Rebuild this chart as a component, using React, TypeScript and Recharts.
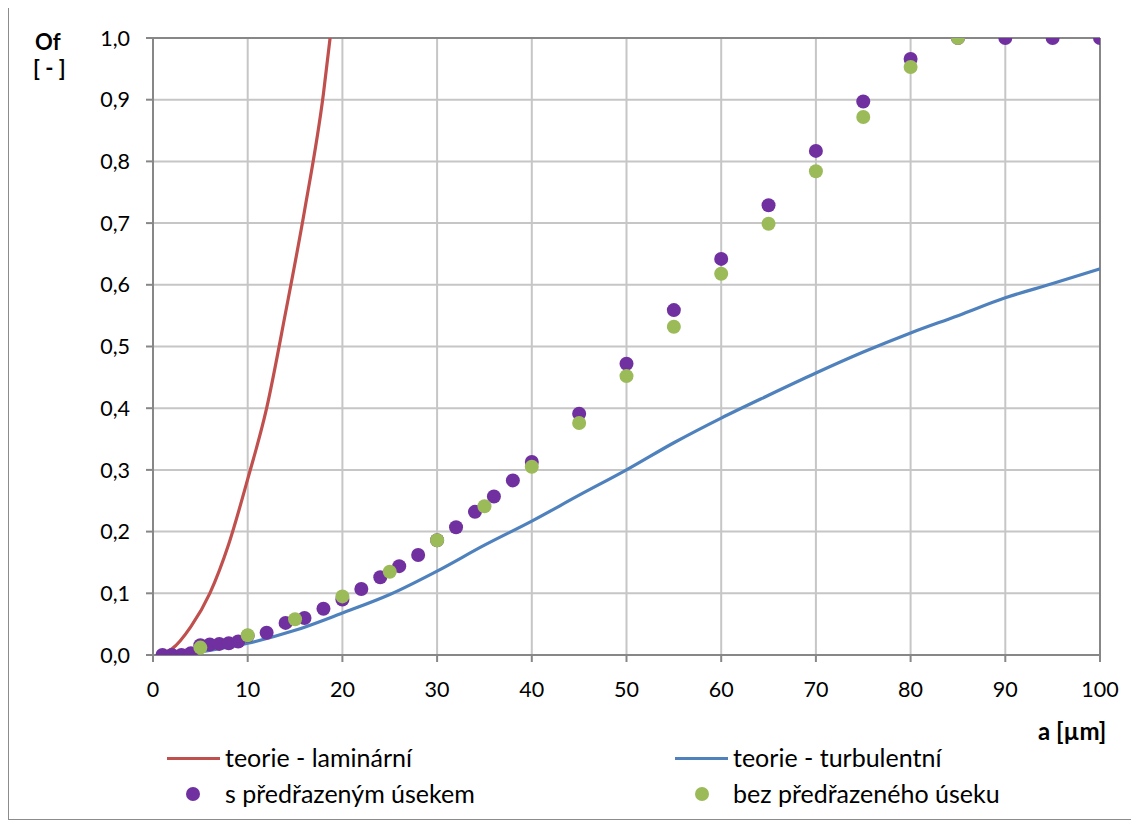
import { ComposedChart, Line, Scatter, XAxis, YAxis, CartesianGrid, ReferenceLine } from "recharts";

// laminar theory curve
const lamA = [1, 2, 4, 6, 8, 10, 12, 14, 16, 18, 18.7];
const lamOf = [0.003, 0.01, 0.046, 0.1, 0.18, 0.285, 0.4, 0.555, 0.72, 0.91, 1.0];

// turbulent theory curve
const turbA = [5, 10, 15, 20, 25, 30, 35, 40, 45, 50, 55, 60, 65, 70, 75, 80, 85, 90, 95, 100];
const turbOf = [0.005, 0.019, 0.04, 0.068, 0.098, 0.136, 0.178, 0.217, 0.259, 0.3, 0.344, 0.384, 0.421, 0.457, 0.491, 0.522, 0.55, 0.579, 0.602, 0.626];

// s předřazeným úsekem
const withA = [1, 2, 3, 4, 5, 6, 7, 8, 9, 10, 12, 14, 16, 18, 20, 22, 24, 26, 28, 30, 32, 34, 36, 38, 40, 45, 50, 55, 60, 65, 70, 75, 80, 85, 90, 95, 100];
const withOf = [0, 0, 0, 0.003, 0.016, 0.017, 0.018, 0.019, 0.022, 0.031, 0.036, 0.052, 0.06, 0.075, 0.09, 0.107, 0.126, 0.144, 0.162, 0.186, 0.207, 0.232, 0.257, 0.283, 0.313, 0.391, 0.472, 0.559, 0.642, 0.729, 0.817, 0.897, 0.966, 1.0, 1.0, 1.0, 1.0];

// bez předřazeného úseku
const withoutA = [5, 10, 15, 20, 25, 30, 35, 40, 45, 50, 55, 60, 65, 70, 75, 80, 85];
const withoutOf = [0.012, 0.032, 0.058, 0.095, 0.135, 0.186, 0.241, 0.305, 0.376, 0.452, 0.532, 0.618, 0.699, 0.784, 0.872, 0.953, 1.0];

const xTicks = [0, 10, 20, 30, 40, 50, 60, 70, 80, 90, 100];
const yTicks = [0, 0.1, 0.2, 0.3, 0.4, 0.5, 0.6, 0.7, 0.8, 0.9, 1.0];

const laminar = lamA.map((a, i) => ({ a, of: lamOf[i] }));
const turbulent = turbA.map((a, i) => ({ a, of: turbOf[i] }));
const withSection = withA.map((a, i) => ({ a, of: withOf[i] }));
const withoutSection = withoutA.map((a, i) => ({ a, of: withoutOf[i] }));

const FONT = "Lato, 'Liberation Sans', sans-serif";
const RED = "#c0504d";
const BLUE = "#4f81bd";
const PURPLE = "#7030a0";
const GREEN = "#9bbb59";
const AXIS = "#878787";

const fmt = (v: number) => v.toFixed(1).replace(".", ",");

function ChartLegend() {
  const text: React.CSSProperties = { position: "absolute", fontSize: 25, color: "#000", whiteSpace: "nowrap", lineHeight: "30px" };
  const lineSw = (color: string, left: number, top: number) => (
    <div style={{ position: "absolute", left, top, width: 53, height: 3, background: color }} />
  );
  const dot = (color: string, left: number, top: number) => (
    <div style={{ position: "absolute", left, top, width: 14, height: 14, borderRadius: 7, background: color }} />
  );
  return (
    <div style={{ position: "absolute", left: 0, top: 0, width: 1122, height: 812, fontFamily: FONT, pointerEvents: "none" }}>
      {lineSw(RED, 158, 750)}
      <span style={{ ...text, left: 216, top: 735 }}>teorie - laminární</span>
      {lineSw(BLUE, 666, 750)}
      <span style={{ ...text, left: 724, top: 735 }}>teorie - turbulentní</span>
      {dot(PURPLE, 177, 780)}
      <span style={{ ...text, left: 216, top: 771 }}>s předřazeným úsekem</span>
      {dot(GREEN, 686, 780)}
      <span style={{ ...text, left: 724, top: 771 }}>bez předřazeného úseku</span>
    </div>
  );
}

export default function App() {
  return (
    <div
      style={{
        position: "relative",
        width: 1122,
        height: 812,
        marginTop: -2,
        border: "1px solid #8c8c8c",
        background: "#fff",
        fontFamily: FONT,
      }}
    >
      <div style={{ position: "absolute", left: 26, top: 22, fontSize: 22, lineHeight: "26px", fontWeight: 700 }}>Of</div>
      <div style={{ position: "absolute", left: 24, top: 48, fontSize: 22, lineHeight: "26px", fontWeight: 700 }}>[ - ]</div>
      <div style={{ position: "absolute", left: 1029, top: 710, fontSize: 24, lineHeight: "28px", fontWeight: 700 }}>a [µm]</div>
      <ComposedChart width={1122} height={812} margin={{ top: 31, right: 31, left: 84, bottom: 134 }}>
        <CartesianGrid stroke="#c6c6c6" strokeWidth={2} horizontalValues={yTicks} verticalValues={xTicks} />
        <XAxis
          dataKey="a"
          type="number"
          domain={[0, 100]}
          ticks={xTicks}
          allowDataOverflow
          height={30}
          stroke={AXIS}
          strokeWidth={2}
          tickSize={7}
          tickMargin={20}
          tick={{ fill: "#000", fontSize: 21.5, fontFamily: FONT }}
        />
        <YAxis
          dataKey="of"
          type="number"
          domain={[0, 1]}
          ticks={yTicks}
          allowDataOverflow
          width={60}
          stroke={AXIS}
          strokeWidth={2}
          tickSize={7}
          tickMargin={16}
          tickFormatter={fmt}
          tick={{ fill: "#000", fontSize: 21.5, fontFamily: FONT }}
        />
        <ReferenceLine y={1} stroke={AXIS} strokeWidth={2} />
        <ReferenceLine x={100} stroke={AXIS} strokeWidth={2} />
        <Line data={laminar} dataKey="of" type="monotone" stroke={RED} strokeWidth={3.2} dot={false} isAnimationActive={false} />
        <Line data={turbulent} dataKey="of" type="monotone" stroke={BLUE} strokeWidth={3.2} dot={false} isAnimationActive={false} />
        <Scatter data={withSection} dataKey="of" fill={PURPLE} shape={(p: any) => <circle cx={p.cx} cy={p.cy} r={7} fill={PURPLE} />} isAnimationActive={false} />
        <Scatter data={withoutSection} dataKey="of" fill={GREEN} shape={(p: any) => <circle cx={p.cx} cy={p.cy} r={7} fill={GREEN} />} isAnimationActive={false} />
      </ComposedChart>
      <ChartLegend />
    </div>
  );
}
